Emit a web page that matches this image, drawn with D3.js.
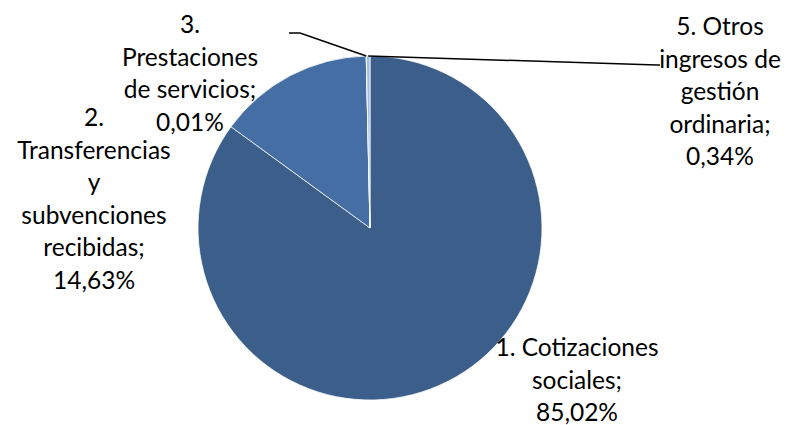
<!DOCTYPE html>
<html>
<head>
<meta charset="utf-8">
<script src="https://cdn.jsdelivr.net/npm/d3@7"></script>
<style>
	body { margin: 0; background: #fff; }
	text { font-family: Lato, "Open Sans", sans-serif; fill: #000; }
</style>
</head>
<body>
<div id="chart"></div>
<script>
// Chart data
let categories = ["1. Cotizaciones sociales", "2. Transferencias y subvenciones recibidas", "3. Prestaciones de servicios", "5. Otros ingresos de gestión ordinaria"];
let values = [85.02, 14.63, 0.01, 0.34];
let valueLabels = ["85,02%", "14,63%", "0,01%", "0,34%"];
let labelLines = [
	["1. Cotizaciones", "sociales;"],
	["2.", "Transferencias", "y", "subvenciones", "recibidas;"],
	["3.", "Prestaciones", "de servicios;"],
	["5. Otros", "ingresos de", "gestión", "ordinaria;"]
];
let colors = ["#3b5e8b", "#456fa4", "#7f9fcc", "#a4bde0"];

let width = 789, height = 425;
let cx = 370, cy = 228, radius = 172;
let lineH = 32.5;

// label block position: centre x and first baseline (relative to pie centre)
let labelPos = [
	{x: 207, y: 128},
	{x: -276, y: -102},
	{x: -180, y: -195},
	{x: 350, y: -193}
];
// leader line elbows (only for the small slices)
let leaderEnds = [null, null, [[-70, -195], [-81, -195]], [[287, -163], [290, -163]]];

let svg = d3.select("#chart").append("svg")
	.attr("width", width)
	.attr("height", height);

let g = svg.append("g")
	.attr("transform", "translate(" + cx + "," + cy + ")");

let pie = d3.pie().sort(null).value(d => d);
let arcs = pie(values);

let arc = d3.arc().innerRadius(0).outerRadius(radius);

g.selectAll(".slice")
	.data(arcs)
	.enter()
	.append("path")
	.attr("class", "slice")
	.attr("d", arc)
	.attr("fill", (d, i) => colors[i])
	.attr("stroke", "#fff")
	.attr("stroke-width", 0.75);

// leader lines
arcs.forEach(function(d, i) {
	if (!leaderEnds[i]) return;
	let a = (d.startAngle + d.endAngle) / 2;
	let p0 = [radius * Math.sin(a), -radius * Math.cos(a)];
	let pts = [p0].concat(leaderEnds[i]);
	g.append("path")
		.attr("d", d3.line()(pts))
		.attr("fill", "none")
		.attr("stroke", "#000")
		.attr("stroke-width", 1.5);
});

// labels
labelLines.forEach(function(lines, i) {
	let all = lines.concat([valueLabels[i]]);
	let t = g.append("text")
		.attr("text-anchor", "middle")
		.style("font-size", "24.5px");
	all.forEach(function(s, k) {
		t.append("tspan")
			.attr("x", labelPos[i].x)
			.attr("y", labelPos[i].y + k * lineH)
			.text(s);
	});
});
</script>
</body>
</html>
